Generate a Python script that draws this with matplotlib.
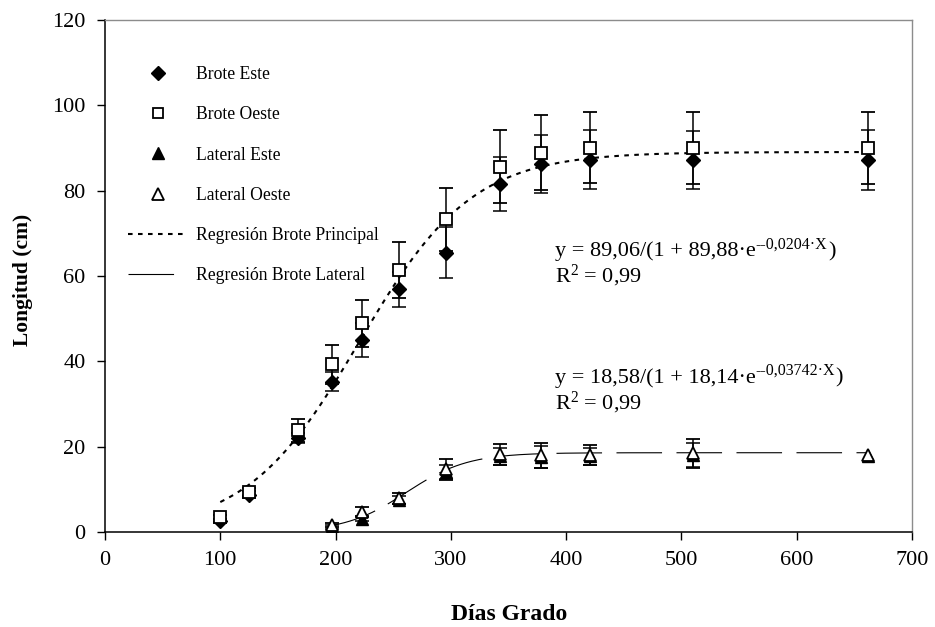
import numpy as np
import matplotlib
matplotlib.use("Agg")
import matplotlib.pyplot as plt
from matplotlib.lines import Line2D

plt.rcParams["font.family"] = ["Liberation Serif", "DejaVu Serif"]
plt.rcParams["mathtext.fontset"] = "custom"
plt.rcParams["mathtext.rm"] = "Liberation Serif"
plt.rcParams["mathtext.default"] = "regular"

# main shoot (brote), degree-days
dg_brote = [100, 125, 167, 197, 223, 255, 296, 343, 378, 421, 510, 662]
brote_este = [2.5, 8.7, 22.0, 35.2, 45.0, 56.9, 65.5, 81.5, 86.2, 87.3, 87.3, 87.2]
brote_este_err = [0.5, 0.8, 1.2, 2.2, 3.9, 4.1, 5.9, 6.3, 6.8, 7.0, 6.8, 7.0]
brote_oeste = [3.6, 9.3, 23.9, 39.3, 48.9, 61.4, 73.3, 85.6, 88.9, 90.1, 90.0, 90.0]
brote_oeste_err = [0.5, 1.0, 2.7, 4.5, 5.5, 6.5, 7.4, 8.6, 8.8, 8.4, 8.5, 8.5]

# lateral shoots
dg_lat = [197, 223, 255, 296, 343, 378, 421, 510, 662]
lat_este = [1.2, 3.0, 7.5, 14.0, 17.8, 17.6, 17.8, 18.0, 17.8]
lat_este_err = [0.4, 0.5, 1.0, 1.6, 2.0, 2.5, 2.0, 2.8, 0.0]
lat_oeste = [1.6, 4.8, 7.9, 14.7, 18.2, 18.0, 18.0, 18.4, 18.0]
lat_oeste_err = [0.5, 1.0, 1.3, 2.4, 2.5, 2.9, 2.4, 3.5, 0.0]

# fitted logistic curves as printed on the chart
BROTE_FIT = (89.06, 89.88, 0.0204)
LAT_FIT = (18.58, 18.14, 0.03742)
LAT_X0 = 184  # lateral X counted from lateral budbreak


def logistic(x, a, b, k):
    return a / (1 + b * np.exp(-k * x))


fig = plt.figure(figsize=(9.35, 6.27), dpi=100)
ax = fig.add_axes([105 / 935, 1 - 532 / 627, (912 - 105) / 935, (532 - 20) / 627])

xb = np.linspace(dg_brote[0], dg_brote[-1], 300)
ax.plot(xb, logistic(xb, *BROTE_FIT), color="black", lw=1.5,
        dashes=(2.2, 2.6), zorder=2)
xl = np.linspace(dg_lat[0], dg_lat[-1], 300)
ax.plot(xl, logistic(xl - LAT_X0, *LAT_FIT), color="black", lw=0.8,
        dashes=(41, 13), zorder=2)

eb = dict(ecolor="black", elinewidth=1.1, capsize=4.7, capthick=1.1, ls="none", zorder=3)
ax.errorbar(dg_brote, brote_este, yerr=brote_este_err, fmt="D", ms=7.5,
            mfc="black", mec="black", **eb)
ax.errorbar(dg_brote, brote_oeste, yerr=brote_oeste_err, fmt="s", ms=8,
            mfc="white", mec="black", mew=1.3, **eb)
le = np.array(lat_este_err)
lo = np.array(lat_oeste_err)
ax.errorbar(dg_lat, lat_este, yerr=np.where(le > 0, le, np.nan), fmt="^", ms=9,
            mfc="black", mec="black", **eb)
ax.errorbar(dg_lat, lat_oeste, yerr=np.where(lo > 0, lo, np.nan), fmt="^", ms=9,
            mfc="white", mec="black", mew=1.3, **eb)

ax.set_xlim(0, 700)
ax.set_ylim(0, 120)
ax.set_xticks(range(0, 701, 100))
ax.set_yticks(range(0, 121, 20))
ax.tick_params(direction="out", length=6, width=1, labelsize=16)
ax.tick_params(axis="y", pad=8)
ax.tick_params(axis="x", pad=8)
for s in ("left", "bottom"):
    ax.spines[s].set_linewidth(1.1)
    ax.spines[s].set_color("black")
for s in ("top", "right"):
    ax.spines[s].set_linewidth(1.0)
    ax.spines[s].set_color("#8c8c8c")

fig.text(509 / 935, 1 - 614 / 627, "Días Grado", ha="center", va="center",
         fontsize=17, fontweight="bold")
fig.text(23 / 935, 1 - 280 / 627, "Longitud (cm)", ha="center", va="center",
         rotation=90, fontsize=15.5, fontweight="bold")

# legend
handles = [
    Line2D([], [], ls="none", marker="D", ms=7, mfc="black", mec="black"),
    Line2D([], [], ls="none", marker="s", ms=7.5, mfc="white", mec="black", mew=1.3),
    Line2D([], [], ls="none", marker="^", ms=8.5, mfc="black", mec="black"),
    Line2D([], [], ls="none", marker="^", ms=8.5, mfc="white", mec="black", mew=1.3),
    Line2D([], [], color="black", lw=1.5, dashes=(2.2, 2.6)),
    Line2D([], [], color="black", lw=0.8, dashes=(41, 13)),
]
labels = ["Brote Este", "Brote Oeste", "Lateral Este", "Lateral Oeste",
          "Regresión Brote Principal", "Regresión Brote Lateral"]
fig.legend(handles, labels, loc="upper left",
           bbox_to_anchor=(128 / 935, 1 - 66 / 627), frameon=False,
           fontsize=12.7, handlelength=3.4, handletextpad=0.48,
           labelspacing=1.32, borderpad=0, borderaxespad=0)


def equation(x, y, head, sup, r2y):
    t1 = ax.text(x, y, head, fontsize=16, va="baseline")
    t2 = ax.annotate(sup, xy=(1, 0), xycoords=t1, xytext=(0.3, 6.5),
                     textcoords="offset points", fontsize=11.5, va="bottom")
    ax.annotate(")", xy=(1, 0), xycoords=t2, xytext=(0.3, -6.5),
                textcoords="offset points", fontsize=16, va="bottom")
    ax.text(x, r2y, "R$^{2}$ = 0,99", fontsize=16, va="baseline")


equation(390, 64.6, "y = 89,06/(1 + 89,88·e", "--0,0204·X", 58.4)
equation(390, 35.0, "y = 18,58/(1 + 18,14·e", "--0,03742·X", 28.8)

fig.savefig("out.png", dpi=100)
